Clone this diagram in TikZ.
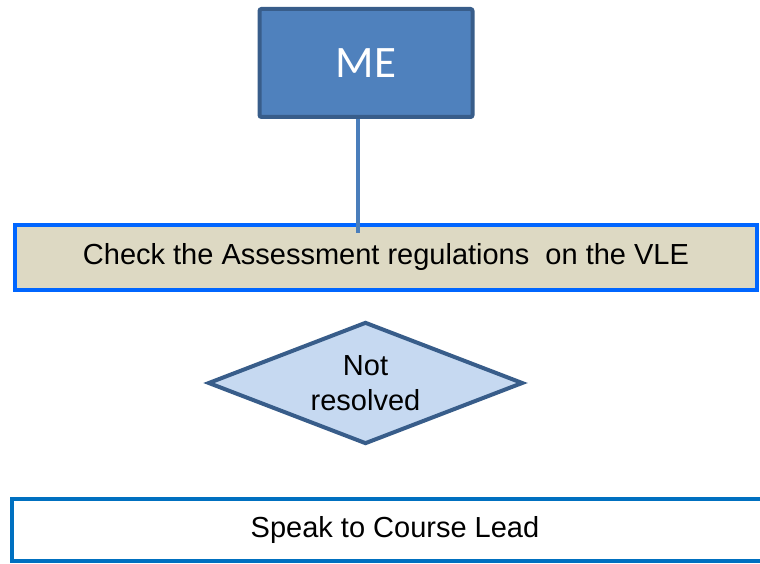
\documentclass[tikz,border=0pt]{standalone}
\usepackage{fontspec}
\setmainfont{Liberation Sans}
\newfontfamily\calibri{Carlito}
\usetikzlibrary{shapes.geometric}
\definecolor{mefill}{HTML}{4F81BD}
\definecolor{medraw}{HTML}{385D8A}
\definecolor{linkblue}{HTML}{4A7EBB}
\definecolor{chkfill}{HTML}{DDD9C3}
\definecolor{chkdraw}{HTML}{0066FF}
\definecolor{decfill}{HTML}{C6D9F1}
\definecolor{leaddraw}{HTML}{0070C0}

\begin{document}
\begin{tikzpicture}[x=1pt,y=-1pt,
    txt/.style={font=\fontsize{29}{35}\selectfont, inner sep=0pt},
    bar/.style={txt, draw, line width=4pt, minimum height=65pt}]

    \useasboundingbox (0,0) rectangle (760,564);
    \clip (0,0) rectangle (760,564);

    \node (me) [draw=medraw, fill=mefill, line width=4pt, rounded corners=2pt, minimum width=213pt, minimum height=108pt, text=white, font=\calibri\fontsize{45}{50}\selectfont] at (366,63) {ME};

    \node (chk) [bar, draw=chkdraw, fill=chkfill, minimum width=742pt] at (386,257.5) {Check the Assessment regulations\ \ on the VLE};

    \node (dec) [txt, diamond, aspect=2.6, draw=medraw, fill=decfill, line width=4pt, align=center, minimum width=315pt, minimum height=122pt] at (365.5,383) {Not\\resolved};

    \node (lead) [bar, draw=leaddraw, fill=white, minimum width=766pt, minimum height=62pt] at (395,530) {Speak to Course Lead};

    \coordinate (tip) at (358,233);
    \draw[linkblue, line width=4pt] (me.south -| tip) -- (tip);

\end{tikzpicture}
\end{document}
